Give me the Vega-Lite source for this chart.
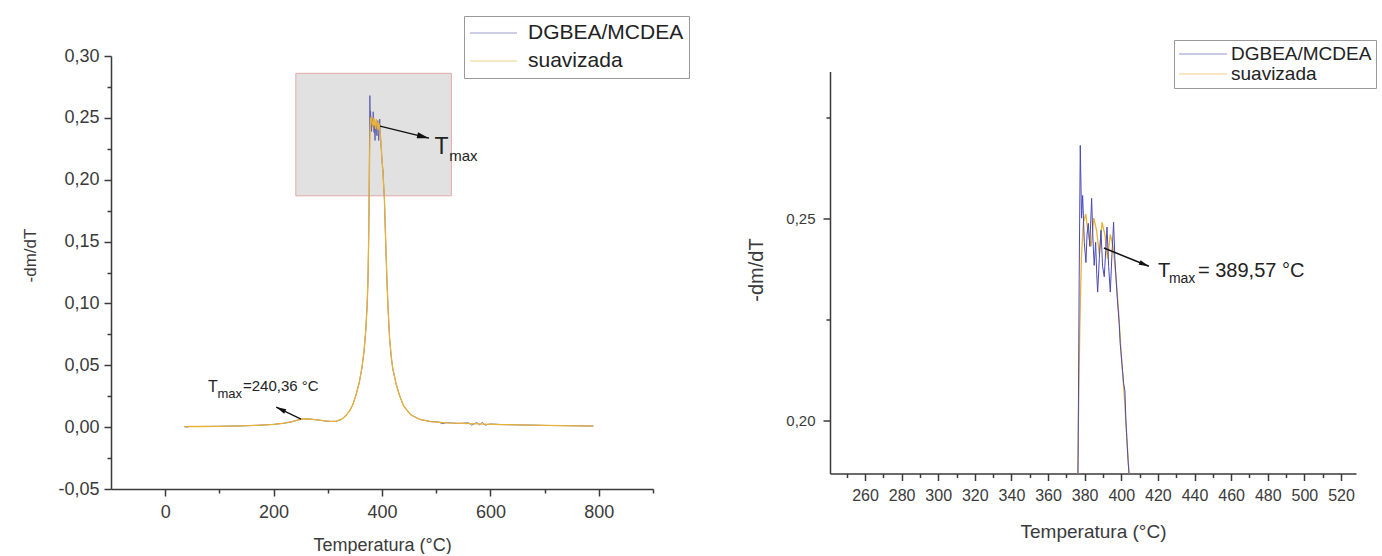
{
  "$schema": "https://vega.github.io/schema/vega-lite/v6.json",
  "background": "white",
  "padding": {"left": 21, "top": 15, "right": 0, "bottom": 0},
  "spacing": 177,
  "bounds": "flush",
  "center": true,
  "resolve": {"scale": {"color": "independent"}, "legend": {"color": "independent"}},
  "config": {
    "view": {"stroke": null},
    "font": "Liberation Sans",
    "axis": {
      "domainColor": "#3a3a3a", "tickColor": "#3a3a3a", "labelColor": "#3a3a3a", "titleColor": "#3a3a3a",
      "domainWidth": 1.5, "tickWidth": 1.5, "grid": false, "titleFontWeight": "normal",
      "labelFont": "Liberation Sans", "titleFont": "Liberation Sans", "labelOverlap": false, "labelFlush": false
    }
  },
  "datasets": {
    "curves": [
      {"s":"suavizada","T":35,"v":0.0004},{"s":"suavizada","T":60,"v":0.0005},{"s":"suavizada","T":100,"v":0.0007},{"s":"suavizada","T":140,"v":0.001},
      {"s":"suavizada","T":170,"v":0.0015},{"s":"suavizada","T":200,"v":0.0022},{"s":"suavizada","T":220,"v":0.0032},{"s":"suavizada","T":235,"v":0.0045},
      {"s":"suavizada","T":245,"v":0.0058},{"s":"suavizada","T":255,"v":0.0066},{"s":"suavizada","T":265,"v":0.0066},{"s":"suavizada","T":280,"v":0.0059},
      {"s":"suavizada","T":295,"v":0.005},{"s":"suavizada","T":305,"v":0.0046},{"s":"suavizada","T":315,"v":0.0047},{"s":"suavizada","T":325,"v":0.0062},
      {"s":"suavizada","T":333,"v":0.0092},{"s":"suavizada","T":340,"v":0.013},{"s":"suavizada","T":346,"v":0.018},{"s":"suavizada","T":352,"v":0.026},
      {"s":"suavizada","T":358,"v":0.036},{"s":"suavizada","T":363,"v":0.048},{"s":"suavizada","T":367,"v":0.062},{"s":"suavizada","T":370,"v":0.078},
      {"s":"suavizada","T":372.5,"v":0.098},{"s":"suavizada","T":374.2,"v":0.12},{"s":"suavizada","T":375.3,"v":0.15},{"s":"suavizada","T":376,"v":0.175},
      {"s":"suavizada","T":376.6,"v":0.2},{"s":"suavizada","T":377.3,"v":0.222},{"s":"suavizada","T":378.2,"v":0.24},{"s":"suavizada","T":379.3,"v":0.249},
      {"s":"suavizada","T":380.6,"v":0.251},{"s":"suavizada","T":382,"v":0.246},{"s":"suavizada","T":383.5,"v":0.243},{"s":"suavizada","T":385,"v":0.25},
      {"s":"suavizada","T":386.5,"v":0.247},{"s":"suavizada","T":388,"v":0.241},{"s":"suavizada","T":389.5,"v":0.249},{"s":"suavizada","T":391,"v":0.246},
      {"s":"suavizada","T":392.5,"v":0.24},{"s":"suavizada","T":394,"v":0.246},{"s":"suavizada","T":395.5,"v":0.243},{"s":"suavizada","T":397,"v":0.236},
      {"s":"suavizada","T":398.5,"v":0.227},{"s":"suavizada","T":400,"v":0.216},{"s":"suavizada","T":401.5,"v":0.207},{"s":"suavizada","T":403,"v":0.196},
      {"s":"suavizada","T":404.3,"v":0.186},{"s":"suavizada","T":405.5,"v":0.17},{"s":"suavizada","T":407,"v":0.148},{"s":"suavizada","T":409,"v":0.12},
      {"s":"suavizada","T":411,"v":0.098},{"s":"suavizada","T":414,"v":0.072},{"s":"suavizada","T":417,"v":0.057},{"s":"suavizada","T":420,"v":0.047},
      {"s":"suavizada","T":426,"v":0.035},{"s":"suavizada","T":432,"v":0.026},{"s":"suavizada","T":440,"v":0.017},{"s":"suavizada","T":453,"v":0.01},
      {"s":"suavizada","T":470,"v":0.0062},{"s":"suavizada","T":490,"v":0.0045},{"s":"suavizada","T":520,"v":0.0035},{"s":"suavizada","T":560,"v":0.0028},
      {"s":"suavizada","T":620,"v":0.0021},{"s":"suavizada","T":700,"v":0.0014},{"s":"suavizada","T":790,"v":0.0009},

      {"s":"DGBEA/MCDEA","T":35,"v":0.0004},{"s":"DGBEA/MCDEA","T":40,"v":0.0},{"s":"DGBEA/MCDEA","T":45,"v":0.0006},{"s":"DGBEA/MCDEA","T":60,"v":0.0005},
      {"s":"DGBEA/MCDEA","T":100,"v":0.0007},{"s":"DGBEA/MCDEA","T":140,"v":0.001},{"s":"DGBEA/MCDEA","T":170,"v":0.0015},{"s":"DGBEA/MCDEA","T":200,"v":0.0022},
      {"s":"DGBEA/MCDEA","T":220,"v":0.0032},{"s":"DGBEA/MCDEA","T":235,"v":0.0045},{"s":"DGBEA/MCDEA","T":245,"v":0.0058},{"s":"DGBEA/MCDEA","T":255,"v":0.0066},
      {"s":"DGBEA/MCDEA","T":265,"v":0.0066},{"s":"DGBEA/MCDEA","T":280,"v":0.0059},{"s":"DGBEA/MCDEA","T":295,"v":0.005},{"s":"DGBEA/MCDEA","T":305,"v":0.0046},
      {"s":"DGBEA/MCDEA","T":315,"v":0.0047},{"s":"DGBEA/MCDEA","T":325,"v":0.0062},{"s":"DGBEA/MCDEA","T":333,"v":0.0092},{"s":"DGBEA/MCDEA","T":340,"v":0.013},
      {"s":"DGBEA/MCDEA","T":346,"v":0.018},{"s":"DGBEA/MCDEA","T":352,"v":0.026},{"s":"DGBEA/MCDEA","T":358,"v":0.036},{"s":"DGBEA/MCDEA","T":363,"v":0.048},
      {"s":"DGBEA/MCDEA","T":367,"v":0.062},{"s":"DGBEA/MCDEA","T":370,"v":0.078},{"s":"DGBEA/MCDEA","T":372.5,"v":0.098},{"s":"DGBEA/MCDEA","T":374.2,"v":0.12},
      {"s":"DGBEA/MCDEA","T":375.5,"v":0.155},{"s":"DGBEA/MCDEA","T":376.4,"v":0.19},{"s":"DGBEA/MCDEA","T":377,"v":0.235},{"s":"DGBEA/MCDEA","T":377.6,"v":0.268},
      {"s":"DGBEA/MCDEA","T":378.3,"v":0.25},{"s":"DGBEA/MCDEA","T":378.9,"v":0.2556},{"s":"DGBEA/MCDEA","T":379.8,"v":0.244},{"s":"DGBEA/MCDEA","T":380.7,"v":0.239},
      {"s":"DGBEA/MCDEA","T":381.3,"v":0.246},{"s":"DGBEA/MCDEA","T":382,"v":0.2487},{"s":"DGBEA/MCDEA","T":382.8,"v":0.243},{"s":"DGBEA/MCDEA","T":383.8,"v":0.2549},
      {"s":"DGBEA/MCDEA","T":384.5,"v":0.245},{"s":"DGBEA/MCDEA","T":385.2,"v":0.2383},{"s":"DGBEA/MCDEA","T":386,"v":0.244},{"s":"DGBEA/MCDEA","T":386.6,"v":0.236},
      {"s":"DGBEA/MCDEA","T":387.1,"v":0.2317},{"s":"DGBEA/MCDEA","T":388,"v":0.24},{"s":"DGBEA/MCDEA","T":388.9,"v":0.247},{"s":"DGBEA/MCDEA","T":389.8,"v":0.238},
      {"s":"DGBEA/MCDEA","T":390.7,"v":0.2355},{"s":"DGBEA/MCDEA","T":391.5,"v":0.242},{"s":"DGBEA/MCDEA","T":392.2,"v":0.2478},{"s":"DGBEA/MCDEA","T":393.1,"v":0.238},
      {"s":"DGBEA/MCDEA","T":394,"v":0.2317},{"s":"DGBEA/MCDEA","T":394.9,"v":0.241},{"s":"DGBEA/MCDEA","T":395.8,"v":0.249},{"s":"DGBEA/MCDEA","T":396.5,"v":0.24},
      {"s":"DGBEA/MCDEA","T":397.1,"v":0.2354},{"s":"DGBEA/MCDEA","T":398,"v":0.229},{"s":"DGBEA/MCDEA","T":398.9,"v":0.2237},{"s":"DGBEA/MCDEA","T":399.4,"v":0.219},
      {"s":"DGBEA/MCDEA","T":399.8,"v":0.217},{"s":"DGBEA/MCDEA","T":400.7,"v":0.2122},{"s":"DGBEA/MCDEA","T":401.3,"v":0.209},{"s":"DGBEA/MCDEA","T":402,"v":0.2072},
      {"s":"DGBEA/MCDEA","T":402.5,"v":0.2},{"s":"DGBEA/MCDEA","T":403,"v":0.1957},{"s":"DGBEA/MCDEA","T":403.7,"v":0.19},{"s":"DGBEA/MCDEA","T":404.3,"v":0.1864},
      {"s":"DGBEA/MCDEA","T":405.5,"v":0.168},{"s":"DGBEA/MCDEA","T":407,"v":0.147},{"s":"DGBEA/MCDEA","T":409,"v":0.12},{"s":"DGBEA/MCDEA","T":411,"v":0.098},
      {"s":"DGBEA/MCDEA","T":414,"v":0.072},{"s":"DGBEA/MCDEA","T":417,"v":0.057},{"s":"DGBEA/MCDEA","T":420,"v":0.047},{"s":"DGBEA/MCDEA","T":426,"v":0.035},
      {"s":"DGBEA/MCDEA","T":432,"v":0.026},{"s":"DGBEA/MCDEA","T":440,"v":0.017},{"s":"DGBEA/MCDEA","T":453,"v":0.01},{"s":"DGBEA/MCDEA","T":470,"v":0.0062},
      {"s":"DGBEA/MCDEA","T":490,"v":0.0045},{"s":"DGBEA/MCDEA","T":505,"v":0.0042},{"s":"DGBEA/MCDEA","T":510,"v":0.0028},{"s":"DGBEA/MCDEA","T":520,"v":0.0036},
      {"s":"DGBEA/MCDEA","T":540,"v":0.003},{"s":"DGBEA/MCDEA","T":560,"v":0.0035},{"s":"DGBEA/MCDEA","T":565,"v":0.0016},{"s":"DGBEA/MCDEA","T":575,"v":0.0037},
      {"s":"DGBEA/MCDEA","T":580,"v":0.0018},{"s":"DGBEA/MCDEA","T":585,"v":0.0039},{"s":"DGBEA/MCDEA","T":590,"v":0.0016},{"s":"DGBEA/MCDEA","T":600,"v":0.0026},
      {"s":"DGBEA/MCDEA","T":620,"v":0.0021},{"s":"DGBEA/MCDEA","T":650,"v":0.0018},{"s":"DGBEA/MCDEA","T":680,"v":0.0016},{"s":"DGBEA/MCDEA","T":700,"v":0.0014},
      {"s":"DGBEA/MCDEA","T":740,"v":0.0012},{"s":"DGBEA/MCDEA","T":790,"v":0.0009}
    ]
  },
  "hconcat": [
    {
      "width": 542,
      "height": 433,
      "encoding": {
        "x": {"field": "T", "type": "quantitative",
          "scale": {"domain": [-100, 900], "nice": false, "zero": false},
          "axis": {"values": [0,100,200,300,400,500,600,700,800,900],
            "labelExpr": "datum.value % 200 == 0 ? datum.label : ''",
            "tickSize": {"expr": "datum.value % 200 == 0 ? 7 : 4"}, "labelPadding": 7, "labelFontSize": 18,
            "title": "Temperatura (°C)", "titleFontSize": 18, "titleY": 61, "titleBaseline": "alphabetic"}},
        "y": {"field": "v", "type": "quantitative",
          "scale": {"domain": [-0.05, 0.3], "nice": false, "zero": false},
          "axis": {"values": [-0.05,-0.025,0,0.025,0.05,0.075,0.1,0.125,0.15,0.175,0.2,0.225,0.25,0.275,0.3],
            "labelExpr": "abs(round(datum.value*1000)) % 50 == 0 ? (datum.value < 0 ? '-' : '') + replace(format(abs(datum.value), '.2f'), '.', ',') : ''",
            "tickSize": {"expr": "abs(round(datum.value*1000)) % 50 == 0 ? 7 : 4"}, "labelPadding": 5, "labelFontSize": 18,
            "title": "-dm/dT", "titleFontSize": 17, "titleX": -80.5, "titleY": 199, "titleBaseline": "middle"}}
      },
      "layer": [
        {"data": {"values": [{"T": 241, "T2": 528, "v": 0.187, "v2": 0.286}]},
         "mark": {"type": "rect", "fill": "#e1e1e1", "stroke": "#e4a9a9", "strokeWidth": 1},
         "encoding": {"x2": {"field": "T2"}, "y2": {"field": "v2"}}},
        {"data": {"name": "curves"},
         "transform": [{"filter": "datum.s == 'DGBEA/MCDEA'"}],
         "mark": {"type": "line", "strokeWidth": 0.9},
         "encoding": {"color": {"field": "s", "type": "nominal",
           "scale": {"domain": ["DGBEA/MCDEA", "suavizada"], "range": ["#5b5bab", "#e8b236"]},
           "legend": {"orient": "none", "legendX": 353, "legendY": -40, "direction": "vertical", "title": null,
             "symbolType": "stroke", "symbolSize": 2209, "symbolStrokeWidth": 1.2, "symbolOpacity": 0.6,
             "labelFontSize": 21, "labelFont": "Liberation Sans", "labelColor": "#222",
             "clipHeight": 24, "rowPadding": 4, "padding": 5, "labelOffset": 10,
             "strokeColor": "#999", "fillColor": "white"}}}},
        {"data": {"name": "curves"},
         "transform": [{"filter": "datum.s == 'suavizada'"}],
         "mark": {"type": "line", "strokeWidth": 1.3},
         "encoding": {"color": {"field": "s", "type": "nominal"}}},
        {"data": {"values": [{"T": 396.3, "v": 0.2433, "T2": 486.7, "v2": 0.2336}]},
         "mark": {"type": "rule", "color": "#111", "strokeWidth": 1.5},
         "encoding": {"x2": {"field": "T2"}, "y2": {"field": "v2"}}},
        {"data": {"values": [{"T": 486.7, "v": 0.2336}]},
         "mark": {"type": "point", "shape": "M-2,-0.5L0,0L-2,0.5Z", "filled": true, "size": 144, "angle": 13.8, "color": "#111", "opacity": 1},
         "encoding": {}},
        {"data": {"values": [{"T": 250.6, "v": 0.0065, "T2": 204.8, "v2": 0.0162}]},
         "mark": {"type": "rule", "color": "#111", "strokeWidth": 1.2},
         "encoding": {"x2": {"field": "T2"}, "y2": {"field": "v2"}}},
        {"data": {"values": [{"T": 204.8, "v": 0.0162}]},
         "mark": {"type": "point", "shape": "M-2,-0.5L0,0L-2,0.5Z", "filled": true, "size": 100, "angle": 205.6, "color": "#111", "opacity": 1},
         "encoding": {}},
        {"data": {"values": [{"T": 497.0, "v": 0.2207, "t": "T"}]},
         "mark": {"type": "text", "fontSize": 23, "align": "left", "baseline": "alphabetic", "color": "#222"},
         "encoding": {"text": {"field": "t"}}},
        {"data": {"values": [{"T": 524.0, "v": 0.215, "t": "max"}]},
         "mark": {"type": "text", "fontSize": 15, "align": "left", "baseline": "alphabetic", "color": "#222"},
         "encoding": {"text": {"field": "t"}}},
        {"data": {"values": [{"T": 79.0, "v": 0.0283, "t": "T"}]},
         "mark": {"type": "text", "fontSize": 16, "align": "left", "baseline": "alphabetic", "color": "#222"},
         "encoding": {"text": {"field": "t"}}},
        {"data": {"values": [{"T": 96.5, "v": 0.0234, "t": "max"}]},
         "mark": {"type": "text", "fontSize": 13, "align": "left", "baseline": "alphabetic", "color": "#222"},
         "encoding": {"text": {"field": "t"}}},
        {"data": {"values": [{"T": 143.5, "v": 0.0291, "t": "=240,36 °C"}]},
         "mark": {"type": "text", "fontSize": 15, "align": "left", "baseline": "alphabetic", "color": "#222"},
         "encoding": {"text": {"field": "t"}}}
      ]
    },
    {
      "width": 526,
      "height": 402,
      "encoding": {
        "x": {"field": "T", "type": "quantitative",
          "scale": {"domain": [240.9, 528.2], "nice": false, "zero": false},
          "axis": {"values": [250,260,270,280,290,300,310,320,330,340,350,360,370,380,390,400,410,420,430,440,450,460,470,480,490,500,510,520],
            "labelExpr": "datum.value % 20 == 0 ? datum.label : ''",
            "tickSize": {"expr": "datum.value % 20 == 0 ? 7 : 4"}, "labelPadding": 7, "labelFontSize": 16,
            "title": "Temperatura (°C)", "titleFontSize": 19, "titleY": 63.5, "titleBaseline": "alphabetic"}},
        "y": {"field": "v", "type": "quantitative",
          "scale": {"domain": [0.1868, 0.2863], "nice": false, "zero": false},
          "axis": {"values": [0.2, 0.225, 0.25, 0.275],
            "labelExpr": "abs(round(datum.value*1000)) % 50 == 0 ? replace(format(datum.value, '.2f'), '.', ',') : ''",
            "tickSize": {"expr": "abs(round(datum.value*1000)) % 50 == 0 ? 7 : 4"}, "labelPadding": 8, "labelFontSize": 15,
            "title": "-dm/dT", "titleFontSize": 20, "titleX": -74, "titleY": 198, "titleBaseline": "middle"}}
      },
      "layer": [
        {"data": {"name": "curves"},
         "transform": [{"filter": "datum.s == 'suavizada'"}],
         "mark": {"type": "line", "strokeWidth": 1.3, "clip": true},
         "encoding": {"color": {"field": "s", "type": "nominal",
           "scale": {"domain": ["DGBEA/MCDEA", "suavizada"], "range": ["#4a4ab8", "#e8b236"]},
           "legend": {"orient": "none", "legendX": 344, "legendY": -31.5, "direction": "vertical", "title": null,
             "symbolType": "stroke", "symbolSize": 2304, "symbolStrokeWidth": 1.2, "symbolOpacity": 0.6,
             "labelFontSize": 19, "labelFont": "Liberation Sans", "labelColor": "#222",
             "clipHeight": 20, "rowPadding": 0, "padding": 4, "labelOffset": 3,
             "strokeColor": "#999", "fillColor": "white"}}}},
        {"data": {"name": "curves"},
         "transform": [{"filter": "datum.s == 'DGBEA/MCDEA'"}],
         "mark": {"type": "line", "strokeWidth": 1, "clip": true},
         "encoding": {"color": {"field": "s", "type": "nominal"}}},
        {"data": {"values": [{"T": 390.5, "v": 0.2426, "T2": 415.1, "v2": 0.2381}]},
         "mark": {"type": "rule", "color": "#111", "strokeWidth": 1.5},
         "encoding": {"x2": {"field": "T2"}, "y2": {"field": "v2"}}},
        {"data": {"values": [{"T": 415.1, "v": 0.2381}]},
         "mark": {"type": "point", "shape": "M-2,-0.5L0,0L-2,0.5Z", "filled": true, "size": 100, "angle": 21.8, "color": "#111", "opacity": 1},
         "encoding": {}},
        {"data": {"values": [{"T": 420.0, "v": 0.2354, "t": "T"}]},
         "mark": {"type": "text", "fontSize": 20, "align": "left", "baseline": "alphabetic", "color": "#222"},
         "encoding": {"text": {"field": "t"}}},
        {"data": {"values": [{"T": 426.0, "v": 0.2339, "t": "max"}]},
         "mark": {"type": "text", "fontSize": 14, "align": "left", "baseline": "alphabetic", "color": "#222"},
         "encoding": {"text": {"field": "t"}}},
        {"data": {"values": [{"T": 441.9, "v": 0.2354, "t": "= 389,57 °C"}]},
         "mark": {"type": "text", "fontSize": 20, "align": "left", "baseline": "alphabetic", "color": "#222"},
         "encoding": {"text": {"field": "t"}}}
      ]
    }
  ]
}
